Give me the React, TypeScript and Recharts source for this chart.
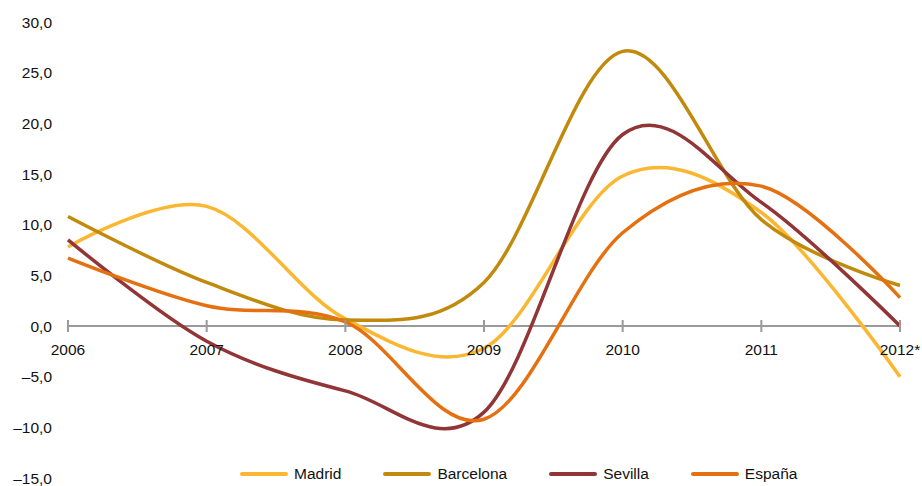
import { Legend, Line, LineChart, ReferenceDot, ReferenceLine, YAxis, XAxis } from "recharts";

const years = ["2006", "2007", "2008", "2009", "2010", "2011", "2012*"];
const madrid = [7.8, 11.8, 0.7, -2.2, 14.8, 11.2, -5.0];
const barcelona = [10.8, 4.3, 0.6, 4.3, 27.1, 10.5, 4.0];
const sevilla = [8.5, -1.5, -6.4, -8.5, 18.9, 12.2, 0.0];
const espana = [6.7, 2.0, 0.4, -9.2, 9.2, 13.8, 2.8];
const seriesNames = ["Madrid", "Barcelona", "Sevilla", "España"];
const yTicks = [-15, -10, -5, 0, 5, 10, 15, 20, 25, 30];

const data = years.map((year, i) => ({
  year,
  madrid: madrid[i],
  barcelona: barcelona[i],
  sevilla: sevilla[i],
  espana: espana[i],
}));

const FONT = '"Liberation Sans", Arial, sans-serif';
const AXIS_GREY = "#9a9a9a";

// Excel-style smoothing (cardinal spline, tension 0)
class ExcelSmooth {
  _context: any;
  _k = 1 / 6;
  _line = NaN;
  _point = 0;
  _x0 = NaN; _x1 = NaN; _x2 = NaN;
  _y0 = NaN; _y1 = NaN; _y2 = NaN;
  constructor(context: any) {
    this._context = context;
  }
  areaStart() { this._line = 0; }
  areaEnd() { this._line = NaN; }
  lineStart() {
    this._x0 = this._x1 = this._x2 = this._y0 = this._y1 = this._y2 = NaN;
    this._point = 0;
  }
  lineEnd() {
    switch (this._point) {
      case 2: this._context.lineTo(this._x2, this._y2); break;
      case 3: this.seg(this._x1, this._y1); break;
    }
    if (this._line || (this._line !== 0 && this._point === 1)) this._context.closePath();
    this._line = 1 - this._line;
  }
  seg(x: number, y: number) {
    const k = this._k;
    this._context.bezierCurveTo(
      this._x1 + k * (this._x2 - this._x0),
      this._y1 + k * (this._y2 - this._y0),
      this._x2 - k * (x - this._x1),
      this._y2 - k * (y - this._y1),
      this._x2,
      this._y2
    );
  }
  point(x: number, y: number) {
    x = +x; y = +y;
    switch (this._point) {
      case 0:
        this._point = 1;
        if (this._line) this._context.lineTo(x, y);
        else this._context.moveTo(x, y);
        break;
      case 1:
        this._point = 2;
        this._x1 = x; this._y1 = y;
        break;
      case 2:
        this._point = 3;
        this.seg(x, y);
        break;
      default:
        this.seg(x, y);
        break;
    }
    this._x0 = this._x1; this._x1 = this._x2; this._x2 = x;
    this._y0 = this._y1; this._y1 = this._y2; this._y2 = y;
  }
}

const excelCurve = (context: any) => new ExcelSmooth(context);

const formatTick = (v: number) => v.toFixed(1).replace(".", ",").replace("-", "\u2013");

function YearTick({ cx, cy, label }: { cx?: number; cy?: number; label: string }) {
  if (cx == null || cy == null) return null;
  return (
    <g>
      <line x1={cx} y1={cy - 6} x2={cx} y2={cy + 6} stroke={AXIS_GREY} strokeWidth={2} />
      <text x={cx} y={cy + 29} textAnchor="middle" fontSize={15.5} fontFamily={FONT} fill="#111">
        {label}
      </text>
    </g>
  );
}

function ChartLegend({ payload }: { payload?: any[] }) {
  const items = [...(payload ?? [])].sort(
    (a, b) => seriesNames.indexOf(a.value) - seriesNames.indexOf(b.value)
  );
  return (
    <div style={{ display: "flex", alignItems: "center", fontFamily: FONT, fontSize: 15.5, color: "#111" }}>
      {items.map((entry) => (
        <div key={entry.value} style={{ display: "flex", alignItems: "center", marginRight: 42 }}>
          <svg width={48} height={6} style={{ marginRight: 6 }}>
            <line x1={2} y1={3} x2={46} y2={3} stroke={entry.color} strokeWidth={4} strokeLinecap="round" />
          </svg>
          <span>{entry.value}</span>
        </div>
      ))}
    </div>
  );
}

export default function App() {
  return (
    <div style={{ position: "absolute", left: 0, top: 0, background: "#fff" }}>
      <LineChart
        width={922}
        height={486}
        data={data}
        margin={{ top: 22, right: 22, bottom: 8, left: 0 }}
      >
        <XAxis dataKey="year" hide />
        <YAxis
          domain={[-15, 30]}
          ticks={yTicks}
          tickFormatter={formatTick}
          axisLine={false}
          tickLine={false}
          tickSize={0}
          tickMargin={16}
          width={68}
          tick={{ fontSize: 15.5, fill: "#111", fontFamily: FONT }}
          interval={0}
        />
        <ReferenceLine y={0} stroke={AXIS_GREY} strokeWidth={2} />
        {years.map((year) => (
          <ReferenceDot
            key={year}
            x={year}
            y={0}
            r={0}
            shape={(p: any) => <YearTick {...p} label={year} />}
          />
        ))}
        <Legend
          layout="horizontal"
          verticalAlign="middle"
          align="center"
          content={<ChartLegend />}
          wrapperStyle={{ top: 465, left: 240, width: 620 }}
        />
        <Line dataKey="madrid" name="Madrid" stroke="#FBB731" strokeWidth={3.5} type={excelCurve as any} dot={false} isAnimationActive={false} />
        <Line dataKey="barcelona" name="Barcelona" stroke="#C18A0C" strokeWidth={3.5} type={excelCurve as any} dot={false} isAnimationActive={false} />
        <Line dataKey="sevilla" name="Sevilla" stroke="#913536" strokeWidth={3.5} type={excelCurve as any} dot={false} isAnimationActive={false} />
        <Line dataKey="espana" name="España" stroke="#E5700F" strokeWidth={3.5} type={excelCurve as any} dot={false} isAnimationActive={false} />
      </LineChart>
    </div>
  );
}
